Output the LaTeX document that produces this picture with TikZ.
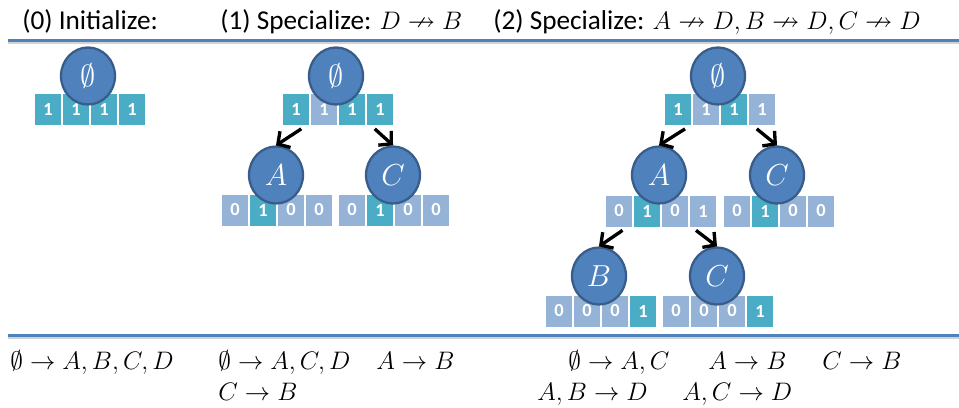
\documentclass[tikz,border=0pt]{standalone}
\usepackage{fontspec}
\setmainfont{Carlito}
\usepackage{amssymb}
\usetikzlibrary{arrows.meta, shapes.geometric}
\definecolor{nodeblue}{HTML}{4F81BD}
\definecolor{nodeedge}{HTML}{385D8A}
\definecolor{bitteal}{HTML}{4BACC6}
\definecolor{bitpale}{HTML}{95B3D7}

% a row of four bit cells: name, left x, centre y, value/colour list
\newcommand{\bitrow}[4]{%
  \foreach \v/\c [count=\i from 0] in {#4}
    \node[bit, fill=\c] (#1-\i) at ({#2+13+28*\i}, #3) {\v};%
}

\begin{document}
\begin{tikzpicture}[x=0.02cm, y=-0.02cm,
    bit/.style={minimum width=0.52cm, minimum height=0.62cm, inner sep=0pt,
      text=white, font=\fontsize{10.5}{11}\selectfont\bfseries},
    item/.style={ellipse, fill=nodeblue, draw=nodeedge, line width=1.3pt,
      minimum width=1.08cm, minimum height=1.14cm, inner sep=0pt, text=white,
      font=\fontsize{19}{22}\selectfont},
    edge/.style={line width=1.9pt, -{Straight Barb[length=5pt,width=11pt]}},
    rule/.style={nodeblue, line width=1.7pt},
    txt/.style={anchor=base west, inner sep=0pt,
      font=\fontsize{15}{18}\selectfont},
    head/.style={txt, font=\fontsize{15.5}{18}\selectfont}]
  \useasboundingbox (0,0) rectangle (959,407);

  % headings and the two rules
  \node[head] (h0) at (22,29) {(0) Initialize:};
  \node[head] (h1) at (220,29) {(1) Specialize: $D \nrightarrow B$};
  \node[head] (h2) at (493,29) {(2) Specialize: $A \nrightarrow D, B \nrightarrow D, C \nrightarrow D$};
  \draw[gray!35, line width=2pt] (8,42.5) -- (959,42.5);
  \draw[rule] (8,40) -- (959,40);
  \draw[gray!35, line width=2pt] (8,337.5) -- (959,337.5);
  \draw[rule] (8,335) -- (959,335);

  % step 0
  \bitrow{b0}{35}{109.5}{1/bitteal,1/bitteal,1/bitteal,1/bitteal}
  \node[item] (r0) at (88,76) {$\emptyset$};

  % step 1
  \bitrow{b1}{283}{109.5}{1/bitteal,1/bitpale,1/bitteal,1/bitteal}
  \node[item] (r1) at (336,76) {$\emptyset$};
  \bitrow{a1b}{222}{210}{0/bitpale,1/bitteal,0/bitpale,0/bitpale}
  \node[item] (a1) at (276,175) {$A$};
  \bitrow{c1b}{339}{210}{0/bitpale,1/bitteal,0/bitpale,0/bitpale}
  \node[item] (c1) at (393,175) {$C$};
  \draw[edge] ([shift={(3pt,-2pt)}]b1-0.south) -- (a1.north);
  \draw[edge] ([shift={(-3pt,-2pt)}]b1-3.south) -- (c1.north);

  % step 2
  \bitrow{b2}{665}{109.5}{1/bitteal,1/bitpale,1/bitteal,1/bitpale}
  \node[item] (r2) at (718,76) {$\emptyset$};
  \bitrow{a2b}{606}{211}{0/bitpale,1/bitteal,0/bitpale,1/bitpale}
  \node[item] (a2) at (659,175) {$A$};
  \bitrow{c2b}{724}{211}{0/bitpale,1/bitteal,0/bitpale,0/bitpale}
  \node[item] (c2) at (777,175) {$C$};
  \bitrow{b2b}{546}{311}{0/bitpale,0/bitpale,0/bitpale,1/bitteal}
  \node[item] (b2) at (599,276) {$B$};
  \bitrow{d2b}{663}{311}{0/bitpale,0/bitpale,0/bitpale,1/bitteal}
  \node[item] (d2) at (717,276) {$C$};
  \draw[edge] ([shift={(4pt,-2pt)}]b2-0.south) -- (a2.north);
  \draw[edge] ([shift={(-3pt,-2pt)}]b2-3.south) -- (c2.north);
  \draw[edge] ([shift={(2pt,-2pt)}]a2b-0.south) -- (b2.north);
  \draw[edge] ([shift={(-4pt,-2pt)}]a2b-3.south) -- (d2.north);

  % resulting dependencies
  \node[txt] (s0) at (10,369) {$\emptyset \rightarrow A, B, C, D$};
  \node[txt] (s1a) at (218,369) {$\emptyset \rightarrow A, C, D$};
  \node[txt] (s1b) at (376,369) {$A \rightarrow B$};
  \node[txt] (s1c) at (218,400) {$C \rightarrow B$};
  \node[txt] (s2a) at (568,369) {$\emptyset \rightarrow A, C$};
  \node[txt] (s2b) at (708,369) {$A \rightarrow B$};
  \node[txt] (s2c) at (822,369) {$C \rightarrow B$};
  \node[txt] (s2d) at (537,400) {$A, B \rightarrow D$};
  \node[txt] (s2e) at (682,400) {$A, C \rightarrow D$};
\end{tikzpicture}
\end{document}
